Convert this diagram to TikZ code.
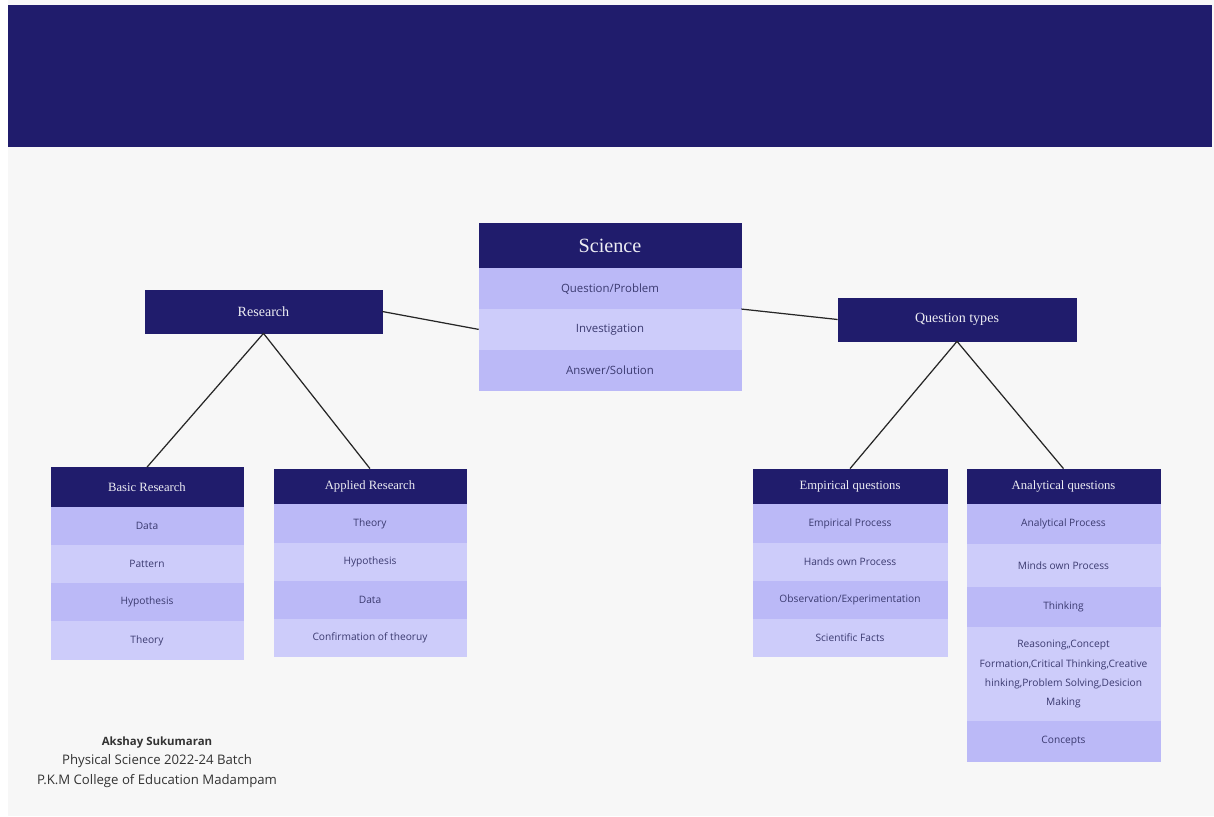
\documentclass[tikz,border=0pt]{standalone}
\usepackage{fontspec}
\setmainfont{Liberation Serif}
\setsansfont{Open Sans}
\usepackage{xcolor}
\usetikzlibrary{positioning}

\definecolor{navy}{HTML}{201C6C}
\definecolor{rowdark}{HTML}{BBB9F7}
\definecolor{rowlight}{HTML}{CDCCFA}
\definecolor{rowtext}{HTML}{3B3A70}
\definecolor{pagebg}{HTML}{F7F7F7}

\tikzset{
    head/.style={fill=navy, draw=navy, text=white!92!navy, inner sep=0pt, font=\fontsize{7.2}{8}\selectfont},
    dk/.style={fill=rowdark, draw=rowdark, text=rowtext, inner sep=0pt, align=center},
    lt/.style={fill=rowlight, draw=rowlight, text=rowtext, inner sep=0pt, align=center},
    small/.style={minimum width=3.84cm, minimum height=0.75cm, font=\sffamily\fontsize{5.8}{7.5}\selectfont},
    wide/.style={minimum width=5.24cm, minimum height=0.8cm, font=\sffamily\fontsize{6.5}{7.5}\selectfont},
    link/.style={draw=black!85, line width=0.7pt}
}

\begin{document}
\begin{tikzpicture}[x=0.02cm, y=-0.02cm]
        % page and banner
        \fill[white] (0,0) rectangle (1214,816);
        \fill[pagebg] (8,0) rectangle (1214,816);
        \fill[navy] (8,5) rectangle (1212,147);

        % centre box
        \node[head, minimum width=5.24cm, minimum height=0.9cm, font=\fontsize{11.5}{12}\selectfont] (science) at (610,245.5) {Science};
        \node[dk, wide, below=0pt of science] (sci1) {Question/Problem};
        \node[lt, wide, below=0pt of sci1] (sci2) {Investigation};
        \node[dk, wide, below=0pt of sci2] (sci3) {Answer/Solution};

        \node[head, minimum width=4.74cm, minimum height=0.86cm, font=\fontsize{8}{9}\selectfont] (research) at (263.5,311.5) {Research};
        \node[head, minimum width=4.76cm, minimum height=0.86cm, font=\fontsize{8}{9}\selectfont] (qtypes) at (957,319.5) {Question types};

        % research side
        \node[head, minimum width=3.84cm, minimum height=0.78cm] (basic) at (147,487) {Basic Research};
        \node[dk, small, below=0pt of basic] (b1) {Data};
        \node[lt, small, below=0pt of b1] (b2) {Pattern};
        \node[dk, small, below=0pt of b2] (b3) {Hypothesis};
        \node[lt, small, below=0pt of b3] (b4) {Theory};

        \node[head, minimum width=3.84cm, minimum height=0.7cm] (applied) at (370,486.5) {Applied Research};
        \node[dk, small, below=0pt of applied] (a1) {Theory};
        \node[lt, small, below=0pt of a1] (a2) {Hypothesis};
        \node[dk, small, below=0pt of a2] (a3) {Data};
        \node[lt, small, below=0pt of a3] (a4) {Confirmation of theoruy};

        % question side
        \node[head, minimum width=3.88cm, minimum height=0.7cm] (emp) at (850,486.5) {Empirical questions};
        \node[dk, small, minimum width=3.88cm, below=0pt of emp] (e1) {Empirical Process};
        \node[lt, small, minimum width=3.88cm, below=0pt of e1] (e2) {Hands own Process};
        \node[dk, small, minimum width=3.88cm, below=0pt of e2] (e3) {Observation/Experimentation};
        \node[lt, small, minimum width=3.88cm, below=0pt of e3] (e4) {Scientific Facts};

        \node[head, minimum width=3.86cm, minimum height=0.7cm] (ana) at (1063.5,486.5) {Analytical questions};
        \node[dk, small, minimum width=3.86cm, minimum height=0.78cm, below=0pt of ana] (n1) {Analytical Process};
        \node[lt, small, minimum width=3.86cm, minimum height=0.84cm, below=0pt of n1] (n2) {Minds own Process};
        \node[dk, small, minimum width=3.86cm, minimum height=0.8cm, below=0pt of n2] (n3) {Thinking};
        \node[lt, small, minimum width=3.86cm, minimum height=1.86cm, font=\sffamily\fontsize{5.8}{11}\selectfont, below=0pt of n3] (n4) {Reasoning,,Concept\\Formation,Critical Thinking,Creative\\hinking,Problem Solving,Desicion\\Making};
        \node[dk, small, minimum width=3.86cm, minimum height=0.8cm, below=0pt of n4] (n5) {Concepts};

        \draw[link] (research.east) to (sci2.west)
            (sci1.south east) to (qtypes.west)
            (research.south) to (basic.north)
            (research.south) to (applied.north)
            (qtypes.south) to (emp.north)
            (qtypes.south) to (ana.north);

        \node[align=center, text=black!80, font=\sffamily\fontsize{7.5}{11}\selectfont] (credit) at (157,762) {{\fontsize{6.5}{11}\selectfont\bfseries Akshay Sukumaran}\\Physical Science 2022-24 Batch\\P.K.M College of Education Madampam};
    \end{tikzpicture}
\end{document}
